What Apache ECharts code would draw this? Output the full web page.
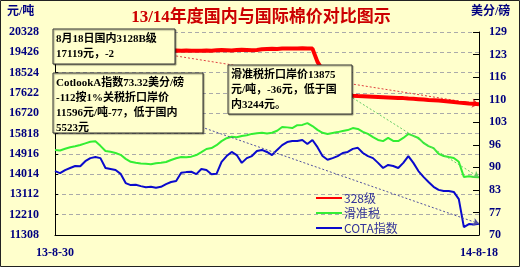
<!DOCTYPE html>
<html><head><meta charset="utf-8">
<script src="https://cdn.jsdelivr.net/npm/echarts@6/dist/echarts.min.js"></script>
<style>html,body{margin:0;padding:0;background:#fff}#c{width:522px;height:270px}</style>
</head><body><div id="c"></div>
<script>
const xLabels = ['13-8-30', '14-8-18'];
const leftTicks = [11308, 12210, 13112, 14014, 14916, 15818, 16720, 17622, 18524, 19426, 20328];
const rightTicks = [70, 76.6, 83.2, 89.8, 96.4, 103, 109.6, 116.2, 122.8, 129.4];
const legendNames = ['328级', '滑准税', 'COTA指数'];

const series328 = [
  19520,19530,19520,19510,19520,19530,19520,19510,19520,19520,
  19530,19520,19510,19520,19520,19510,19520,19530,19520,19510,
  19520,19520,19510,19500,19510,19500,19510,19500,19490,19500,
  19510,19500,19520,19530,19520,19510,19530,19540,19530,19520,
  19530,19560,19570,19580,19570,19590,19600,19590,19600,19610,
  19600,19590,19000,18640,18200,17840,17660,17570,17530,17500,
  17480,17470,17460,17450,17440,17430,17420,17410,17400,17390,
  17370,17360,17345,17330,17310,17295,17280,17260,17240,17220,
  17190,17170,17150,17135,17119];
const seriesHZS = [
  15085,15060,15140,15210,15250,15310,15380,15450,15470,15270,
  15040,15010,14950,14870,14690,14560,14520,14490,14470,14450,
  14500,14520,14550,14640,14720,14770,14760,14790,14860,14990,
  15130,15170,15300,15480,15610,15670,15650,15710,15740,15800,
  15830,15850,15820,15850,15940,16110,16090,16060,16190,16200,
  16280,16150,15980,15850,15800,15840,15880,15930,15970,16060,
  16020,15890,15800,15660,15530,15480,15620,15490,15480,15620,
  15800,15710,15620,15400,15260,15170,14910,14820,14770,14730,
  14560,13890,13920,13890,13875];
const seriesCOTA = [
  88.7,88.1,89.0,89.6,90.2,90.1,91.6,92.5,92.8,92.5,
  89.6,89.3,89.0,87.9,85.2,84.6,84.7,84.3,84.0,84.1,
  83.8,84.1,84.9,85.5,85.8,88.2,88.4,88.5,87.8,89.3,
  89.0,87.8,87.9,91.4,93.1,94.3,93.4,91.1,92.5,93.1,
  94.6,94.9,94.3,93.4,94.9,96.3,97.2,97.5,97.5,97.8,
  96.6,97.8,95.7,93.1,92.0,92.5,93.1,94.0,94.3,95.2,
  95.5,94.0,93.1,92.5,91.1,89.6,90.5,90.2,89.6,91.1,
  93.1,91.1,88.7,87.0,85.5,84.1,83.2,82.9,82.9,82.6,
  80.5,72.3,73.2,73.1,73.32];

// leader lines (start point in data space -> last point)
const lead328 = [24, 19262];
const leadHZS = [59, 17396];
const leadCOTA = [29, 101.6];

const N = series328.length;
const categories = series328.map((_, i) => String(i));

const navy = '#000080';
const bg = '#FFFFCC';
const latinFont = "'Liberation Serif','Noto Sans CJK SC'";
const boxText = { fontSize: 11, fontWeight: 'bold', fontFamily: latinFont, fill: '#000', lineHeight: 15 };
const rich = {
  a: { fontSize: 11, fontWeight: 'bold', fontFamily: latinFont, color: '#000', lineHeight: 15 },
  b: { fontSize: 11, fontWeight: 'bold', fontFamily: latinFont, color: '#0000CC', lineHeight: 15 }
};

function box(x, y, w, h, text) {
  return {
    type: 'group', x: x, y: y, z: 100,
    children: [
      { type: 'rect', shape: { x: 0, y: 0, width: w, height: h }, z: 100,
        style: { fill: bg, stroke: '#333', lineWidth: 1, shadowColor: 'rgba(0,0,0,0.35)', shadowOffsetX: 1, shadowOffsetY: 1, shadowBlur: 1 } },
      { type: 'text', x: 3, y: 3, z: 101,
        style: Object.assign({ text: text, rich: rich }, boxText) }
    ]
  };
}

const chart = echarts.init(document.getElementById('c'), null, { renderer: 'canvas' });
chart.setOption({
  backgroundColor: '#FFFFFF',
  animation: false,
  title: {
    text: '13/14年度国内与国际棉价对比图示',
    left: 'center', top: 4,
    textStyle: { color: '#CC0000', fontSize: 17, fontWeight: 'bold', fontFamily: latinFont }
  },
  grid: { left: 55, right: 43, top: 32, bottom: 35 },
  legend: {
    orient: 'vertical', left: 310, top: 187,
    itemWidth: 26, itemHeight: 12, itemGap: 3,
    itemStyle: { opacity: 0 },
    data: legendNames,
    textStyle: { color: '#333399', fontSize: 12, fontFamily: "'Noto Sans CJK SC'", padding: [0, 0, 0, -3] }
  },
  graphic: [
    { type: 'rect', shape: { x: 0.5, y: 0.5, width: 519, height: 266 }, z: -1,
      style: { fill: bg, stroke: '#222', lineWidth: 1 } },
    { type: 'text', x: 7, y: 6, style: { text: '元/吨', fontSize: 12, fontWeight: 'bold', fontFamily: latinFont, fill: navy } },
    { type: 'text', x: 471, y: 6, style: { text: '美分/磅', fontSize: 12, fontWeight: 'bold', fontFamily: latinFont, fill: navy } },
    box(53, 29, 122, 35, '{a|8月18日国内3128B级}\n{a|17119元，}{b|-2}'),
    box(53, 73, 150, 60, '{a|CotlookA指数73.32美分/磅}\n{b|-112}{a|按1%关税折口岸价}\n{a|11596元/吨}{b|-77}{a|，低于国内}\n{a|5523元}'),
    box(228, 65, 124, 49, '{a|滑准税折口岸价13875}\n{a|元/吨，}{b|-36}{a|元，低于国}\n{a|内3244元。}')
  ],
  xAxis: {
    type: 'category', data: categories, boundaryGap: false,
    axisLine: { lineStyle: { color: '#000', width: 1 } },
    axisTick: { show: false },
    axisLabel: {
      interval: (i) => i === 0 || i === N - 1,
      formatter: (v, i) => (i === 0 ? xLabels[0] : (i === N - 1 ? xLabels[1] : '')),
      color: navy, fontSize: 12, fontWeight: 'bold', fontFamily: latinFont, margin: 12
    },
    splitLine: { show: false }
  },
  yAxis: [
    {
      type: 'value', min: leftTicks[0], max: leftTicks[leftTicks.length - 1], interval: 902,
      axisLine: { show: true, lineStyle: { color: '#000' } },
      axisTick: { show: true, inside: true, length: 3, lineStyle: { color: '#000' } },
      axisLabel: { formatter: (v) => String(Math.round(v)), color: navy, fontSize: 12, fontWeight: 'bold', fontFamily: latinFont, margin: 16 },
      splitLine: { show: true, lineStyle: { color: '#AAAAAA', type: [4, 3], width: 1 } }
    },
    {
      type: 'value', min: rightTicks[0], max: rightTicks[rightTicks.length - 1],
      axisLine: { show: true, lineStyle: { color: '#000' } },
      axisTick: { show: true, inside: true, length: 6, customValues: rightTicks, lineStyle: { color: '#000' } },
      axisLabel: { customValues: rightTicks, formatter: (v) => String(Math.round(v)),
        color: navy, fontSize: 12, fontWeight: 'bold', fontFamily: latinFont, margin: 10 },
      splitLine: { show: false }
    }
  ],
  series: [
    {
      name: legendNames[0], type: 'line', data: series328, yAxisIndex: 0, symbol: 'none', z: 5,
      itemStyle: { color: '#FF0000' }, lineStyle: { color: '#FF0000', width: 4 },
      markLine: { silent: true, symbol: ['none', 'arrow'], symbolSize: 7, label: { show: false },
        lineStyle: { color: '#E04040', type: [2, 2], width: 1 },
        data: [[{ coord: lead328 }, { coord: [N - 1, series328[N - 1]] }]] }
    },
    {
      name: legendNames[1], type: 'line', data: seriesHZS, yAxisIndex: 0, symbol: 'none', z: 4,
      itemStyle: { color: '#33EE33' }, lineStyle: { color: '#33EE33', width: 2 },
      markLine: { silent: true, symbol: ['none', 'arrow'], symbolSize: 6, label: { show: false },
        lineStyle: { color: '#66CC66', type: [2, 2], width: 1 },
        data: [[{ coord: leadHZS }, { coord: [N - 1, seriesHZS[N - 1]] }]] }
    },
    {
      name: legendNames[2], type: 'line', data: seriesCOTA, yAxisIndex: 1, symbol: 'none', z: 3,
      itemStyle: { color: '#0A0ACC' }, lineStyle: { color: '#0A0ACC', width: 2 },
      markLine: { silent: true, symbol: ['none', 'arrow'], symbolSize: 6, label: { show: false },
        lineStyle: { color: '#5050A0', type: [2, 2], width: 1 },
        data: [[{ coord: leadCOTA }, { coord: [N - 1, seriesCOTA[N - 1]] }]] }
    }
  ]
});
</script>
</body></html>
